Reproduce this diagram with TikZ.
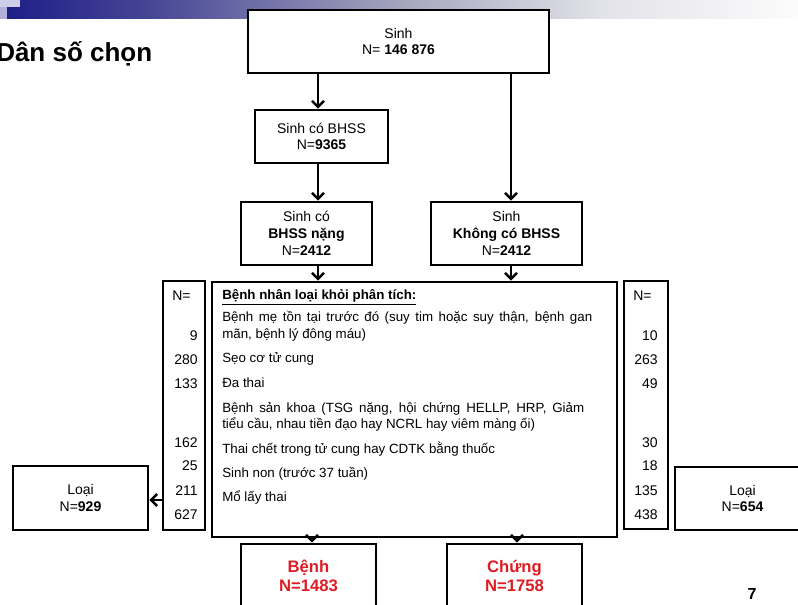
\documentclass[tikz,border=0pt]{standalone}
\usepackage{fontspec}
\setmainfont{Liberation Sans}
\usetikzlibrary{positioning,arrows.meta}

\definecolor{caseRed}{RGB}{222,28,36}
\definecolor{bannerA}{RGB}{30,30,136}
\definecolor{bannerB}{RGB}{70,70,150}
\definecolor{bannerC}{RGB}{165,165,190}
\definecolor{bannerD}{RGB}{226,226,233}
\definecolor{bannerE}{RGB}{252,252,252}
\definecolor{squareA}{RGB}{205,205,232}
\definecolor{squareB}{RGB}{176,176,216}

\tikzset{
  every box/.style={draw, line width=2.2pt, fill=white, align=center, inner sep=0pt},
  flow text/.style={font=\fontsize{10.5}{12.5}\selectfont},
  case text/.style={text=caseRed, font=\fontsize{12.5}{14.5}\selectfont\bfseries},
  reason/.style={anchor=base west, inner sep=0pt, font=\fontsize{10}{12}\selectfont},
  tally/.style={anchor=base east, inner sep=0pt, font=\fontsize{10.5}{12}\selectfont},
}

\begin{document}
\begin{tikzpicture}[x=0.75pt, y=-0.75pt,
  >={Straight Barb[length=4.5pt,width=9pt,line width=1.8pt]}]

\useasboundingbox (0,0) rectangle (798,605);

% slide banner
\shade[left color=bannerA, right color=bannerB] (7,0) rectangle (150.5,19);
\shade[left color=bannerB, right color=bannerC] (150,0) rectangle (400.5,19);
\shade[left color=bannerC, right color=bannerD] (400,0) rectangle (600.5,19);
\shade[left color=bannerD, right color=bannerE] (600,0) rectangle (798,19);
\fill[squareA] (0,0) rectangle (20,7);
\fill[squareB] (0,7) rectangle (7,19);

\node[anchor=base west, inner sep=0pt, font=\fontsize{19.5}{22}\selectfont\bfseries]
  (title) at (-4,62) {Dân số chọn};

% flow boxes
\node[every box, flow text, minimum width=225.75pt, minimum height=47.25pt]
  (birth) at (398.5,41.5) {Sinh\\N= \textbf{146 876}};
\node[every box, flow text, minimum width=99.75pt, minimum height=39.75pt]
  (bhss) at (321.5,136.5) {Sinh có BHSS\\N=\textbf{9365}};
\node[every box, flow text, minimum width=98.25pt, minimum height=47.25pt]
  (severe) at (306.5,233.5) {Sinh có\\\textbf{BHSS nặng}\\N=\textbf{2412}};
\node[every box, flow text, minimum width=113.25pt, minimum height=47.25pt]
  (nobhss) at (506.5,233.5) {Sinh\\\textbf{Không có BHSS}\\N=\textbf{2412}};

\node[every box, minimum width=31.5pt, minimum height=186.75pt] (nl) at (184,405.5) {};
\node[every box, minimum width=303.75pt, minimum height=191.25pt] (excl) at (414.5,409.5) {};
\node[every box, minimum width=33pt, minimum height=186pt] (nr) at (646,405) {};

\node[every box, flow text, minimum width=101.25pt, minimum height=48pt]
  (loai-l) at (80.5,498) {Loại\\N=\textbf{929}};
\node[every box, flow text, minimum width=101.25pt, minimum height=47.25pt]
  (loai-r) at (742.5,498.5) {Loại\\N=\textbf{654}};

\node[every box, case text, minimum width=101.25pt, minimum height=48pt]
  (case) at (308.5,576) {Bệnh\\N=1483};
\node[every box, case text, minimum width=101.25pt, minimum height=48pt]
  (control) at (514.5,576) {Chứng\\N=1758};

% excluded patients
\node[reason, font=\fontsize{10}{12}\selectfont\bfseries] (reason-0) at (222,300)
  {\underline{Bệnh nhân loại khỏi phân tích:}};
\node[reason] (reason-1) at (222,322)
  {\makebox[277.5pt][s]{Bệnh mẹ tồn tại trước đó (suy tim hoặc suy thận, bệnh gan}};
\node[reason] (reason-2) at (222,339) {mãn, bệnh lý đông máu)};
\node[reason] (reason-3) at (222,363) {Sẹo cơ tử cung};
\node[reason] (reason-4) at (222,387) {Đa thai};
\node[reason] (reason-5) at (222,412)
  {\makebox[271.5pt][s]{Bệnh sản khoa (TSG nặng, hội chứng HELLP, HRP, Giảm}};
\node[reason] (reason-6) at (222,428) {tiểu cầu, nhau tiền đạo hay NCRL hay viêm màng ối)};
\node[reason] (reason-7) at (222,453) {Thai chết trong tử cung hay CDTK bằng thuốc};
\node[reason] (reason-8) at (222,477) {Sinh non (trước 37 tuần)};
\node[reason] (reason-9) at (222,501) {Mổ lấy thai};

\node[tally, anchor=base west] (nl-0) at (172,301) {N=};
\foreach \n/\y [count=\i] in {9/340, 280/364, 133/388, 162/447, 25/470, 211/495, 627/519}
  \node[tally] (nl-\i) at (198,\y) {\n};

\node[tally, anchor=base west] (nr-0) at (633,301) {N=};
\foreach \n/\y [count=\i] in {10/340, 263/364, 49/388, 30/447, 18/470, 135/495, 438/519}
  \node[tally] (nr-\i) at (658,\y) {\n};

\node[font=\fontsize{12}{14}\selectfont\bfseries] (page) at (752,594) {7};

% connectors
\coordinate (lane-l) at (318,0);
\coordinate (lane-r) at (511,0);
\coordinate (lane-case) at (312,0);
\coordinate (lane-ctrl) at (517,0);

\begin{scope}[line width=1.6pt]
\draw [->] (birth.south -| lane-l) -- (bhss.north -| lane-l);
\draw [->] (bhss.south -| lane-l) -- (severe.north -| lane-l);
\draw [->] (birth.south -| lane-r) -- (nobhss.north -| lane-r);
\draw [->] (severe.south -| lane-l) -- (excl.north -| lane-l);
\draw [->] (nobhss.south -| lane-r) -- (excl.north -| lane-r);
\draw [->] (excl.south -| lane-case) -- (case.north -| lane-case);
\draw [->] (excl.south -| lane-ctrl) -- (control.north -| lane-ctrl);
\draw [->] (nl.west |- 0,500) -- (loai-l.east |- 0,500);
\end{scope}

\end{tikzpicture}
\end{document}
